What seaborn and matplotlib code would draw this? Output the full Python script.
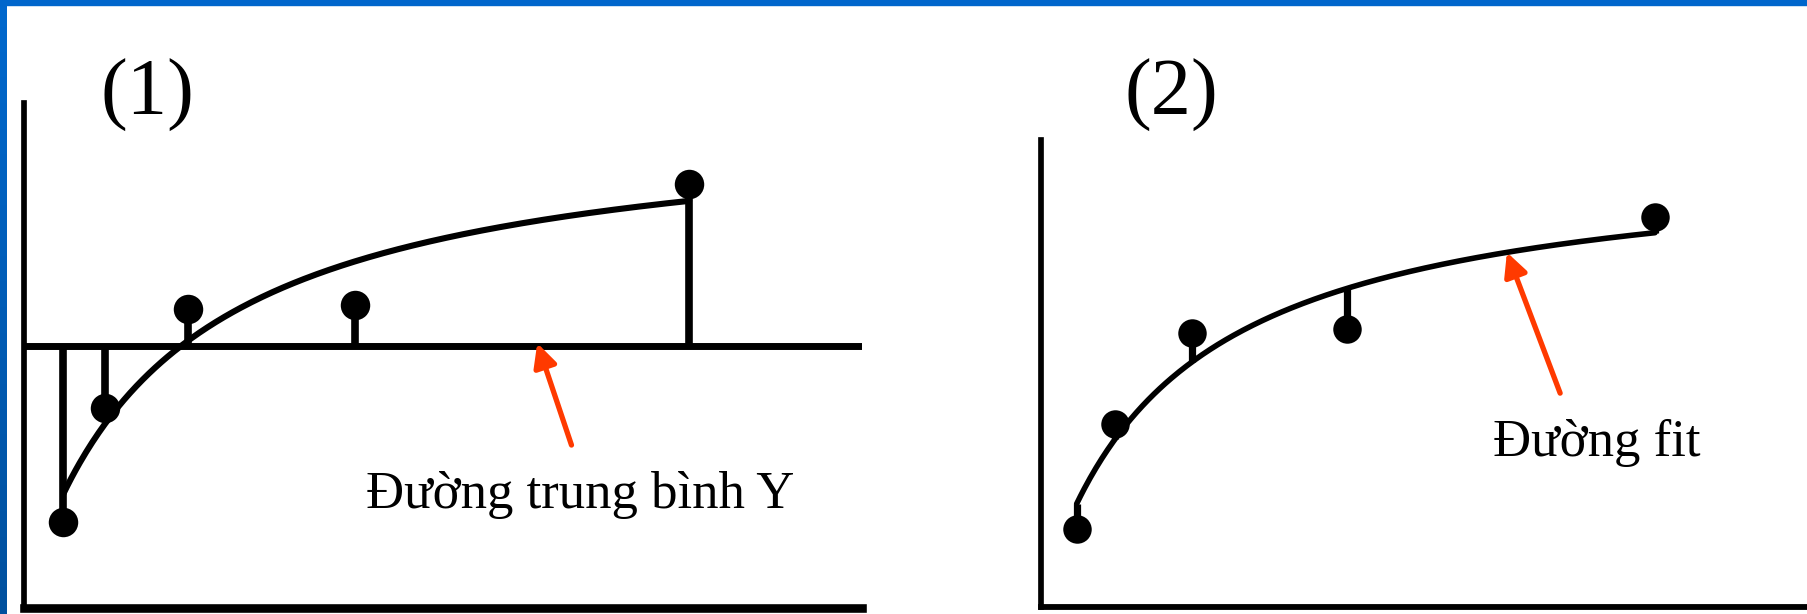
import numpy as np
import matplotlib
matplotlib.use('Agg')
import matplotlib.pyplot as plt
import seaborn as sns
from matplotlib.colors import LinearSegmentedColormap
from matplotlib.patches import Rectangle

# Data (same five points in both panels)
x_vals = [5, 10, 20, 40, 80]
y_vals = [10.1, 23.7, 35.6, 36.1, 50.6]

panel_labels = ['(1)', '(2)']
mean_label = 'Đường trung bình Y'
fit_label = 'Đường fit'

sns.set_theme(style='white')
plt.rcParams['font.family'] = ['Liberation Serif', 'DejaVu Serif']

W, H = 1807, 614
fig = plt.figure(figsize=(W / 100, H / 100), dpi=100)

xa = np.array(x_vals, dtype=float)
ya = np.array(y_vals, dtype=float)
y_mean = ya.mean()

# least-squares hyperbola fit y = Vmax*x/(Km+x), Vmax solved for each Km
km_grid = np.linspace(0.5, 60, 6000)
g = xa[None, :] / (km_grid[:, None] + xa[None, :])
vm_grid = (g * ya).sum(axis=1) / (g * g).sum(axis=1)
sse = ((ya - vm_grid[:, None] * g) ** 2).sum(axis=1)
best = np.argmin(sse)
km, vmax = km_grid[best], vm_grid[best]


def fit(x):
    return vmax * x / (km + x)


x_curve = np.linspace(xa.min(), xa.max(), 300)
y_curve = fit(x_curve)

ink = 'black'
red = '#FF3A00'

# axes boxes in pixels: left, bottom, right, top
ax1 = fig.add_axes([23.5 / W, 1 - 607.5 / H, (862 - 23.5) / W, (607.5 - 103) / H])
ax2 = fig.add_axes([1041 / W, 1 - 606.7 / H, (1810 - 1041) / W, (606.7 - 140) / H])
ax1.set_xlim(0.26, 100.7)
ax1.set_ylim(-0.17, 60.3)
ax2.set_xlim(0.38, 100.1)
ax2.set_ylim(0.04, 60.6)

for ax, bottom_lw in [(ax1, 6.2), (ax2, 4.2)]:
    ax.set_facecolor('none')
    ax.set_xticks([])
    ax.set_yticks([])
    ax.set_xlabel('')
    ax.set_ylabel('')
    for side in ['top', 'right']:
        ax.spines[side].set_visible(False)
    ax.spines['left'].set_color(ink)
    ax.spines['left'].set_linewidth(4.1)
    ax.spines['bottom'].set_color(ink)
    ax.spines['bottom'].set_linewidth(bottom_lw)

# Panel (1): deviations from the mean of Y
ax1.axhline(y_mean, color=ink, lw=5)
ax1.vlines(xa, y_mean, ya, color=ink, lw=5.5)
sns.lineplot(x=x_curve, y=y_curve, ax=ax1, color=ink, lw=4.4)
sns.scatterplot(x=xa, y=ya, ax=ax1, color=ink, s=450, edgecolor=None,
                linewidth=0, zorder=5)
ax1.annotate('', xy=(61.8, y_mean + 0.3), xytext=(65.9, 19.3),
             arrowprops=dict(arrowstyle='-|>,head_length=0.7,head_width=0.35',
                             mutation_scale=20, color=red, lw=3.8,
                             shrinkA=0, shrinkB=0))
ax1.text(66.9, 11.75, mean_label, fontsize=38, ha='center', va='baseline',
         color=ink)

# Panel (2): residuals from the fitted curve
ax2.vlines(xa, fit(xa), ya, color=ink, lw=5.2)
sns.lineplot(x=x_curve, y=y_curve, ax=ax2, color=ink, lw=4)
sns.scatterplot(x=xa, y=ya, ax=ax2, color=ink, s=420, edgecolor=None,
                linewidth=0, zorder=5)
ax2.annotate('', xy=(60.8, fit(60.8)), xytext=(67.7, 27.75),
             arrowprops=dict(arrowstyle='-|>,head_length=0.7,head_width=0.35',
                             mutation_scale=20, color=red, lw=3.8,
                             shrinkA=0, shrinkB=0))
ax2.text(72.5, 19.6, fit_label, fontsize=38, ha='center', va='baseline',
         color=ink)

# panel numbers
fig.text(101 / W, 1 - 115 / H, panel_labels[0], fontsize=58, ha='left',
         va='baseline', color=ink)
fig.text(1124 / W, 1 - 115 / H, panel_labels[1], fontsize=58, ha='left',
         va='baseline', color=ink)

# slide frame: blue bar on top, blue gradient on the left edge
fig.patches.append(Rectangle((0, 1 - 5 / H), 1, 5 / H, transform=fig.transFigure,
                             color='#0066CC', zorder=10))
edge = fig.add_axes([0, 0, 7 / W, 1])
edge.axis('off')
blue_cmap = LinearSegmentedColormap.from_list('edge', ['#00509E', '#0068CE'])
edge.imshow(np.linspace(0, 1, 256)[:, None], cmap=blue_cmap, aspect='auto',
            origin='lower', extent=[0, 1, 0, 1])

fig.savefig('out.png', dpi=100)
